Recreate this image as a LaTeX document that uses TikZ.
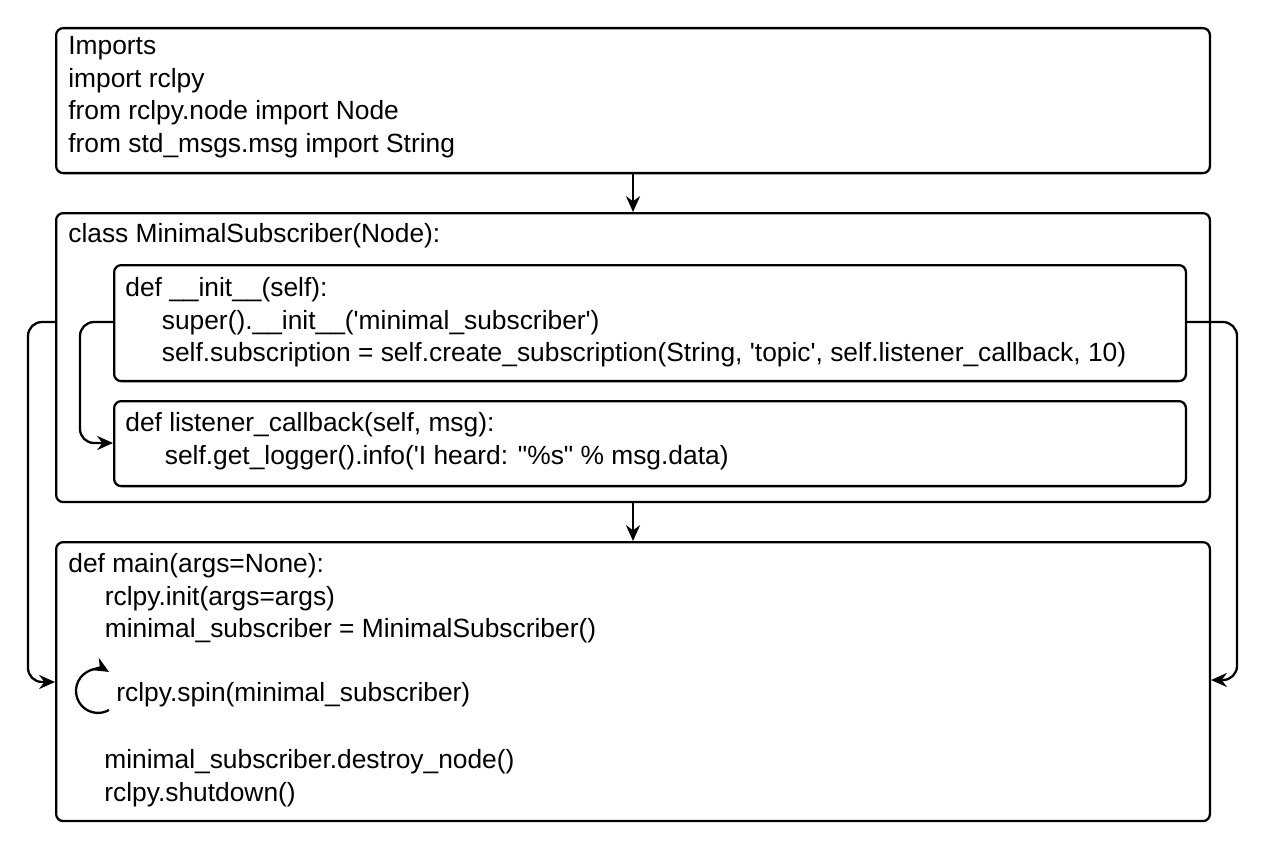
\documentclass[tikz,border=0pt]{standalone}
\usepackage{fontspec}
\newfontfamily\codefont{Liberation Sans}
\usetikzlibrary{arrows.meta}
\newcommand{\ind}{\hspace*{0.73cm}}
\begin{document}
\begin{tikzpicture}[x=0.02cm,y=-0.02cm,
  box/.style={draw, line width=1.3pt, rounded corners=4pt, anchor=north west, inner sep=0pt}, % code block
  code/.style={anchor=north west, inner sep=0pt, align=left, font=\codefont\fontsize{15pt}{18.6pt}\selectfont}, % code text
  flow/.style={line width=1.3pt, -{Stealth[length=9pt,width=8pt]}}, % arrows
  loop/.style={flow, rounded corners=8pt}]
\useasboundingbox (0,0) rectangle (1264,848);
% blocks
\node[box, minimum width=23.08cm, minimum height=2.9cm] (imports) at (55,27) {};
\node[box, minimum width=23.08cm, minimum height=5.78cm] (cls) at (55,212) {};
\node[box, minimum width=21.44cm, minimum height=2.32cm] (init) at (113,264) {};
\node[box, minimum width=21.44cm, minimum height=1.7cm] (listener) at (113,400) {};
\node[box, minimum width=23.08cm, minimum height=5.58cm] (main) at (55,541) {};
% texts
\node[code] (t1) at (68,36) {Imports\\import rclpy\\from rclpy.node import Node\\from std\_msgs.msg import String};
\node[code] (t2) at (68,223) {class MinimalSubscriber(Node):};
\node[code] (t3) at (125,277) {def \_\_init\_\_(self):\\ \ind super().\_\_init\_\_('minimal\_subscriber')\\ \ind self.subscription = self.create\_subscription(String, 'topic', self.listener\_callback, 10)};
\node[code] (t4) at (125,412) {def listener\_callback(self, msg):\\ \ind\hspace*{0.06cm}self.get\_logger().info('I heard: "\%s" \% msg.data)};
\node[code] (t5) at (68,553) {def main(args=None):\\ \ind rclpy.init(args=args)\\ \ind minimal\_subscriber = MinimalSubscriber()};
\node[code] (spin) at (116,682) {rclpy.spin(minimal\_subscriber)};
\node[code] (t6) at (104,749) {minimal\_subscriber.destroy\_node()\\rclpy.shutdown()};
% connectors
\draw[flow] (imports.south) -- (cls.north);
\draw[flow] (cls.south) -- (main.north);
\draw[loop] (cls.west |- 0,322) -- (28,322) -- (28,682) -- (main.west |- 0,682);
\draw[loop] (init.west |- 0,322) -- (80,322) -- (80,443) -- (listener.west |- 0,443);
\draw[loop] (init.east |- 0,322) -- (1237,322) -- (1237,680) -- (main.east |- 0,680);
\draw[line width=1.3pt, -{Stealth[length=9pt,width=8pt]}] (109,710) arc[start angle=60, end angle=300, radius=22];
\end{tikzpicture}
\end{document}
